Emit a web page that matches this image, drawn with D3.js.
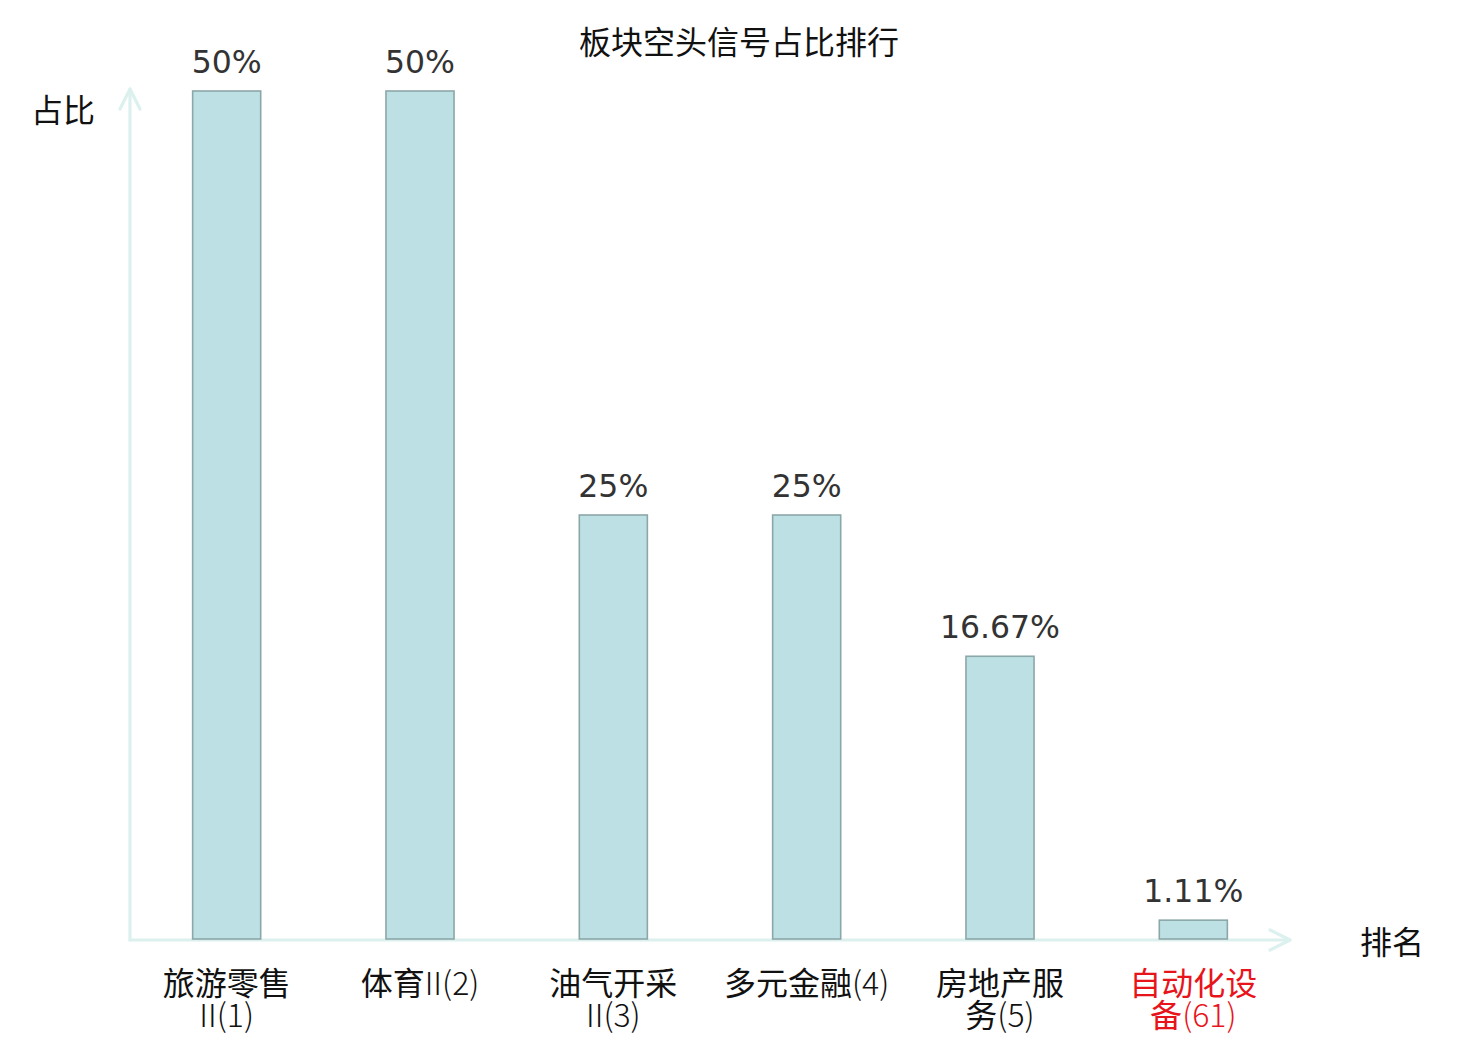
<!DOCTYPE html>
<html>
<head>
<meta charset="utf-8">
<script src="https://cdn.jsdelivr.net/npm/d3@7/dist/d3.min.js"></script>
<style>
  html, body { margin: 0; padding: 0; background: #fff; }
  svg { display: block; }
</style>
</head>
<body>
<svg id="chart" width="1480" height="1040"></svg>
<script>
// ---- data ----
const title = "板块空头信号占比排行";
const categories = ["旅游零售II(1)", "体育II(2)", "油气开采II(3)", "多元金融(4)", "房地产服务(5)", "自动化设备(61)"];
const values = [50, 50, 25, 25, 16.67, 1.11];
const valueLabels = ["50%", "50%", "25%", "25%", "16.67%", "1.11%"];
const highlight = ["自动化设备(61)"];
const yAxisLabel = "占比";
const xAxisLabel = "排名";

// ---- layout ----
const W = 1480, H = 1040;
const x0 = 130, x1 = 1290, yBase = 940, yTop = 89;
const svg = d3.select("#chart");

const x = d3.scaleBand().domain(categories).range([x0, x1]).padding(0);
const y = d3.scaleLinear().domain([0, d3.max(values)]).range([yBase - 1, 91]);
const barW = x.bandwidth() * 0.352;

const axisColor = "#dcf1ee";
const cjk = "'Noto Sans CJK SC', 'Noto Sans', sans-serif";

// title
svg.append("text")
  .attr("x", W / 2 - 1).attr("y", 54)
  .attr("text-anchor", "middle")
  .style("font-family", cjk).style("font-size", "32px").attr("fill", "#111")
  .text(title);

// axes
const ax = svg.append("g").attr("fill", "none").attr("stroke", axisColor)
  .attr("stroke-width", 3.2).attr("stroke-linecap", "round").attr("stroke-linejoin", "round");
ax.append("path").attr("d", d3.line()([[x0, yBase], [x0, yTop]]));
ax.append("path").attr("d", d3.line()([[x0 - 10, yTop + 20], [x0, yTop], [x0 + 10, yTop + 20]]));
ax.append("path").attr("d", d3.line()([[x0, yBase], [x1, yBase]]));
ax.append("path").attr("d", d3.line()([[x1 - 20, yBase - 10], [x1, yBase], [x1 - 20, yBase + 10]]));

// axis labels
svg.append("text").attr("x", 63).attr("y", 122).attr("text-anchor", "middle")
  .style("font-family", cjk).style("font-size", "32px").attr("fill", "#111").text(yAxisLabel);
svg.append("text").attr("x", 1392).attr("y", 954).attr("text-anchor", "middle")
  .style("font-family", cjk).style("font-size", "32px").attr("fill", "#111").text(xAxisLabel);

// bars
svg.append("g").selectAll("rect").data(categories).join("rect")
  .attr("x", d => x(d) + x.bandwidth() / 2 - barW / 2)
  .attr("y", (d, i) => y(values[i]))
  .attr("width", barW)
  .attr("height", (d, i) => y(0) - y(values[i]))
  .attr("fill", "#bce0e3")
  .attr("stroke", "#8ca7a8")
  .attr("stroke-width", 1.6);

// value labels
svg.append("g").selectAll("text").data(categories).join("text")
  .attr("x", d => x(d) + x.bandwidth() / 2)
  .attr("y", (d, i) => y(values[i]) - 18)
  .attr("text-anchor", "middle")
  .style("font-family", "'DejaVu Sans', sans-serif").style("font-size", "31.5px")
  .attr("fill", "#333")
  .text((d, i) => valueLabels[i]);

// category labels (wrap long names after 4 chars)
function wrap(s) {
  const chars = Array.from(s);
  if (chars.length <= 7) return [s];
  return [chars.slice(0, 4).join(""), chars.slice(4).join("")];
}
function runs(s) {
  const out = [];
  for (const ch of Array.from(s)) {
    const isC = /[\u3400-\u9fff]/.test(ch);
    if (out.length && out[out.length - 1].c === isC) out[out.length - 1].t += ch;
    else out.push({ t: ch, c: isC });
  }
  return out;
}
const lab = svg.append("g").selectAll("text").data(categories).join("text")
  .attr("x", d => x(d) + x.bandwidth() / 2)
  .attr("y", yBase + 55)
  .attr("text-anchor", "middle")
  .style("font-family", cjk).style("font-size", "32px")
  .attr("fill", d => highlight.includes(d) ? "#e8141b" : "#111");
const lines = lab.selectAll("tspan.line").data(d => wrap(d).map(t => ({ t, d }))).join("tspan")
  .attr("class", "line")
  .attr("x", p => x(p.d) + x.bandwidth() / 2)
  .attr("dy", (p, i) => i === 0 ? 0 : 32);
lines.selectAll("tspan.run").data(p => runs(p.t)).join("tspan")
  .attr("class", "run")
  .style("font-weight", r => r.c ? 400 : 300)
  .text(r => r.t);
</script>
</body>
</html>
